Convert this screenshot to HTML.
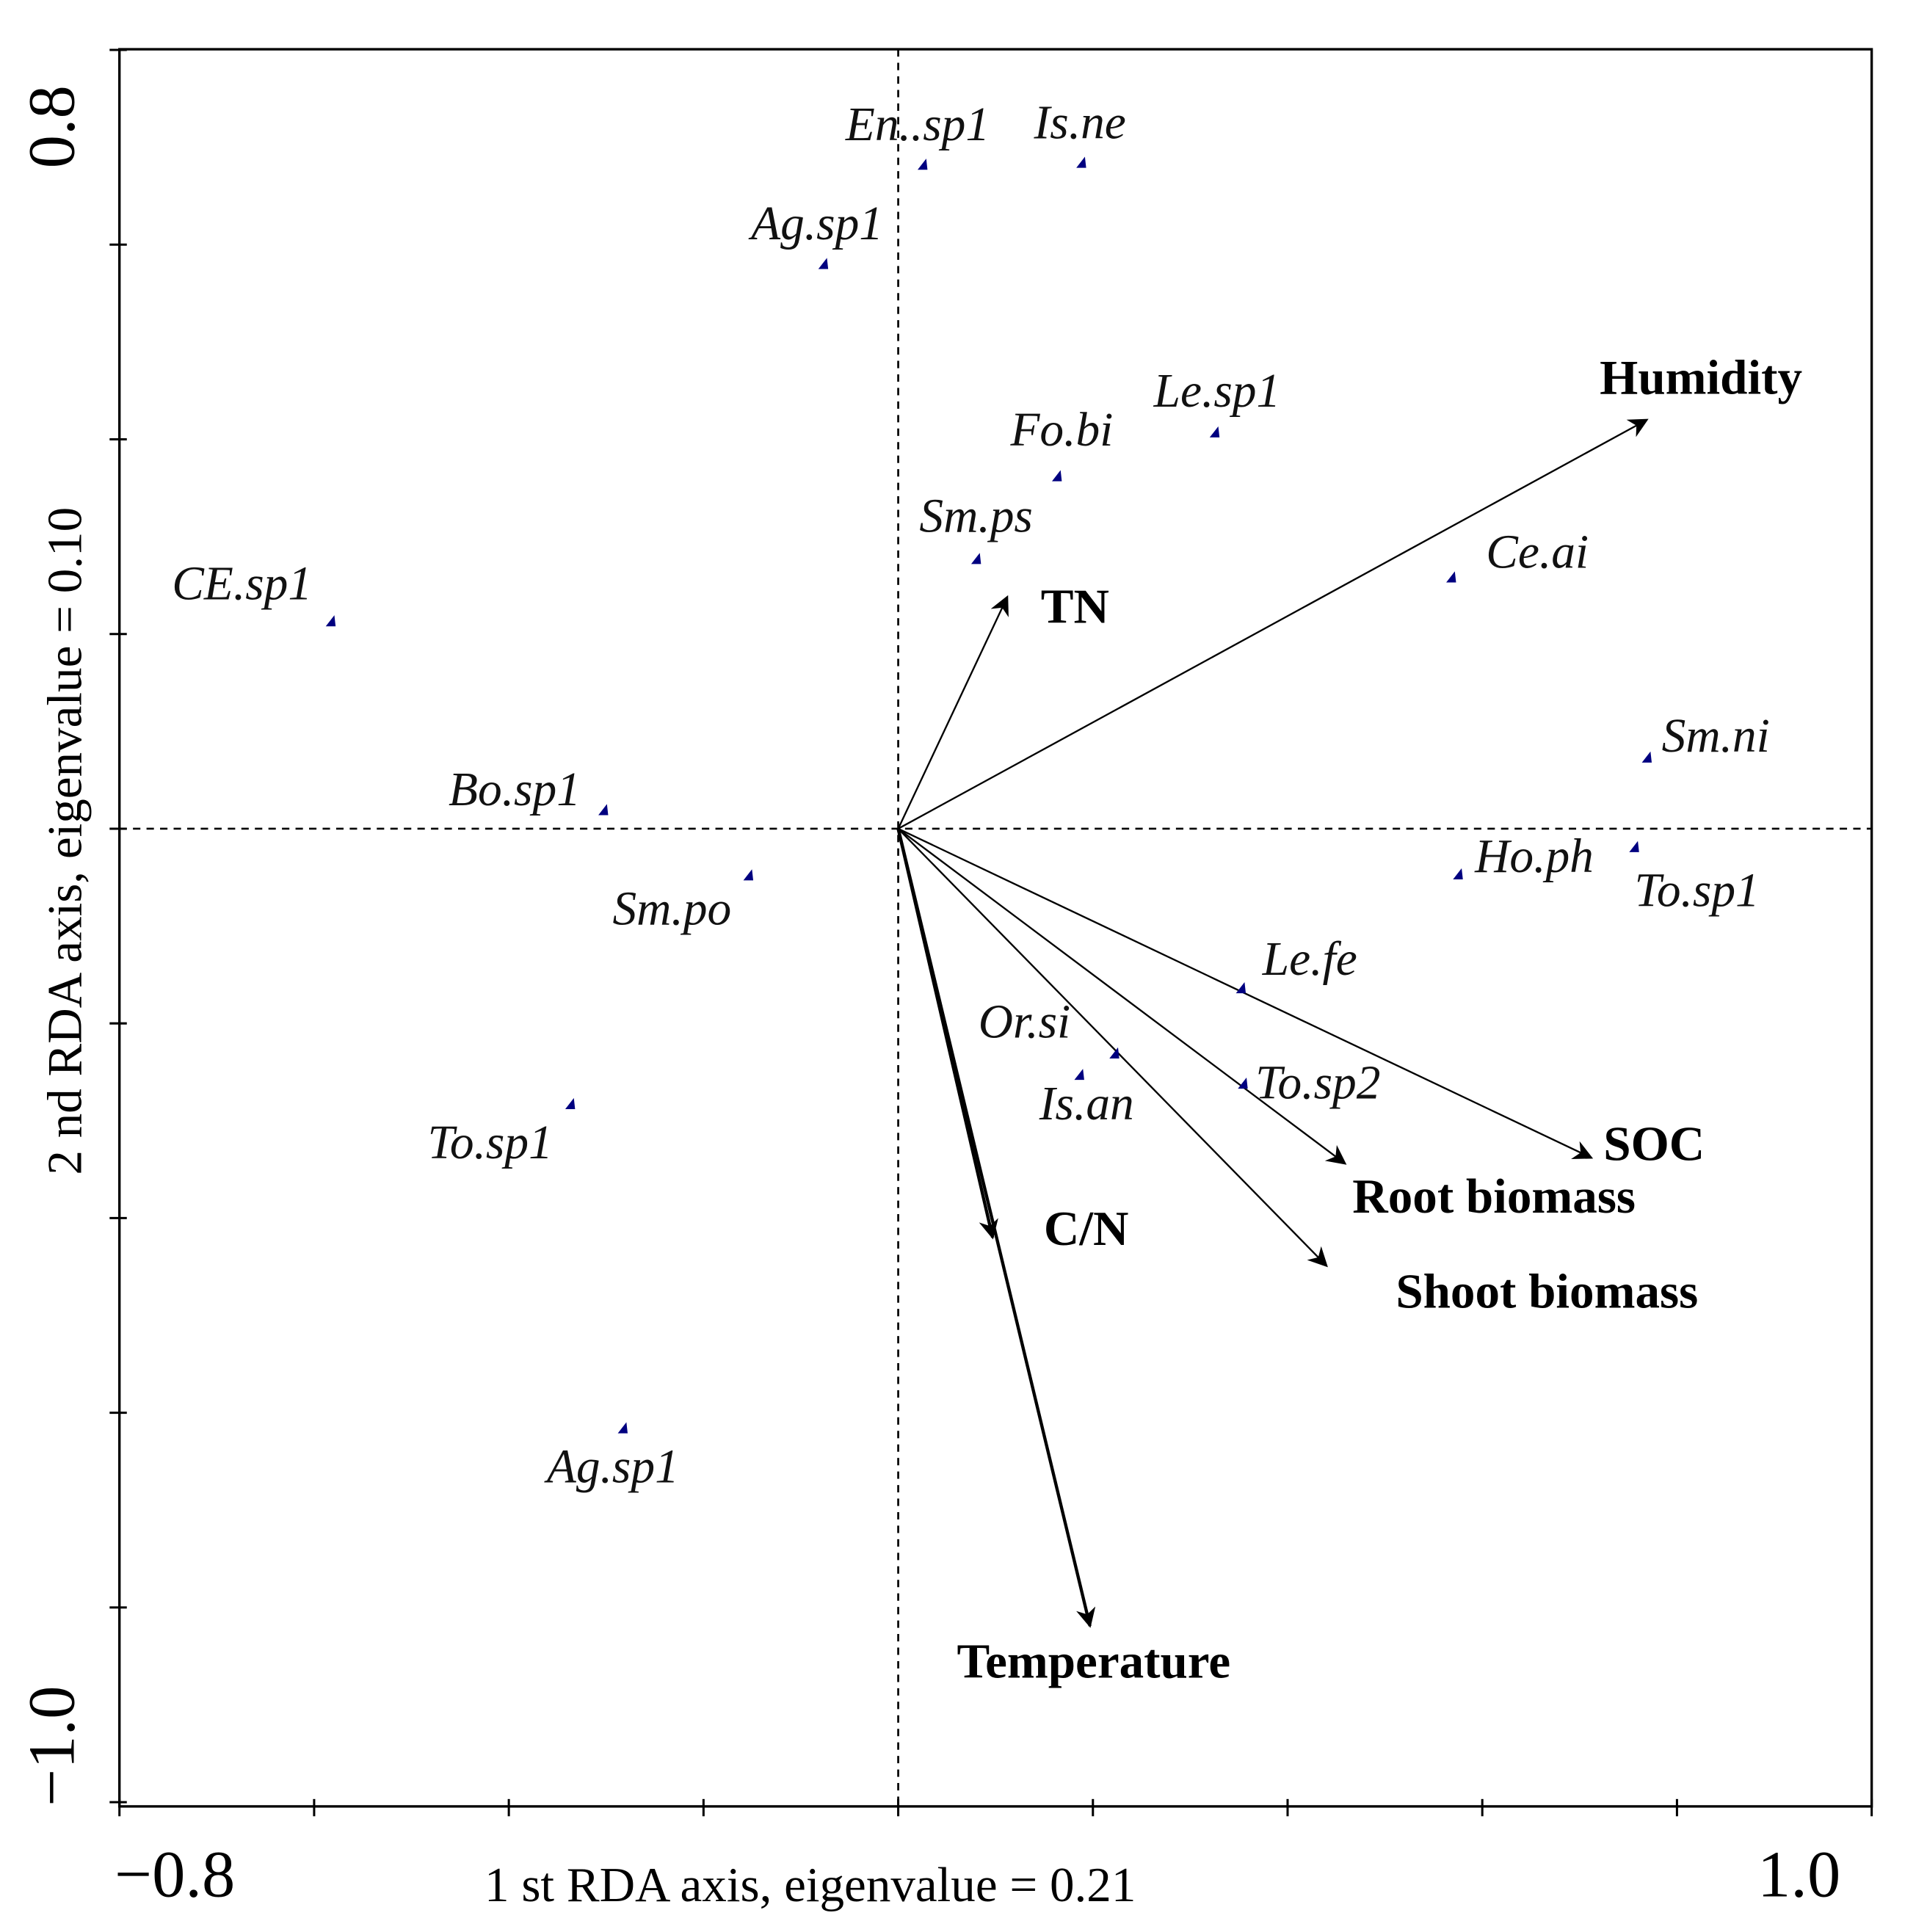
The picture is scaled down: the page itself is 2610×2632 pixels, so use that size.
<!DOCTYPE html>
<html>
<head>
<meta charset="utf-8">
<style>
  html,body{margin:0;padding:0;background:#fff;}
  svg{display:block;}
  .sp{font-family:"Liberation Serif",serif;font-style:italic;font-size:39px;fill:#111;}
  .env{font-family:"Liberation Serif",serif;font-weight:bold;font-size:40px;fill:#000;}
  .tick{font-family:"Liberation Serif",serif;font-size:54px;fill:#000;}
  .ttl{font-family:"Liberation Serif",serif;font-size:40px;fill:#000;}
</style>
</head>
<body>
<svg id="chart" width="2610" height="2632" viewBox="0 0 1556 1569" preserveAspectRatio="none" xmlns="http://www.w3.org/2000/svg">
  <defs>
    <marker id="ahBig" viewBox="0 0 10 10" refX="9" refY="5" markerWidth="24" markerHeight="16" markerUnits="userSpaceOnUse" orient="auto">
      <path d="M0,0 L10,5 L0,10 L3,5 z" fill="#000"/>
    </marker>
  </defs>
  <rect x="97" y="40" width="1423" height="1427" fill="none" stroke="#000" stroke-width="2"/>
  <g id="grid"></g>
  <g id="axes"></g>
  <g id="arrows"></g>
  <g id="species"></g>
  <text class="ttl" x="658" y="1544" text-anchor="middle">1 st RDA axis, eigenvalue = 0.21</text>
  <text class="ttl" x="0" y="0" text-anchor="middle" transform="translate(66,683) rotate(-90)">2 nd RDA axis, eigenvalue = 0.10</text>
</svg>
<script>
// ---- data ----
const xTickValues = [-0.8,-0.6,-0.4,-0.2,0,0.2,0.4,0.6,0.8,1.0];
const yTickValues = [-1.0,-0.8,-0.6,-0.4,-0.2,0,0.2,0.4,0.6,0.8];
const xTickLabels = ["\u22120.8","1.0"];
const yTickLabels = ["\u22121.0","0.8"];

const speciesNames = ["En..sp1","Is.ne","Ag.sp1","Le.sp1","Fo.bi","Sm.ps","Ce.ai","CE.sp1","Sm.ni","Bo.sp1","Sm.po","Ho.ph","To.sp1","Le.fe","Or.si","Is.an","To.sp2","To.sp1","Ag.sp1"];
const speciesX = [0.025,0.188,-0.077,0.325,0.163,0.080,0.568,-0.583,0.769,-0.303,-0.154,0.575,0.756,0.352,0.222,0.186,0.354,-0.337,-0.283];
const speciesY = [0.682,0.684,0.580,0.407,0.362,0.277,0.258,0.213,0.073,0.019,-0.048,-0.047,-0.019,-0.164,-0.231,-0.253,-0.262,-0.283,-0.616];

const envNames = ["TN","Humidity","SOC","Root biomass","Shoot biomass","C/N","Temperature"];
const envX = [0.112,0.769,0.712,0.459,0.440,0.097,0.197];
const envY = [0.238,0.420,-0.338,-0.344,-0.449,-0.420,-0.819];

// label placement offsets (px, styling only)
const spLabelDX = [-4,-1,-5,2,4,0,70,-72,56,-72,-62,62,51,56,-73,6,61,-65,-8];
const spLabelDY = [-20,-20,-20,-21,-25,-22,-8,-18,-5,-4,40,-2,48,-11,-13,36,12,44,44];
const envLabelDX = [55,44,51,121,179,76,3];
const envLabelDY = [21,-21,2,40,34,6,42];

// ---- scales ----
const X0=97, X1=1520, Y0=40, Y1=1467;
const ppu = (X1-X0)/1.8;
function sx(v){ return X0 + (v+0.8)*ppu; }
function sy(v){ return 673 - v*ppu; }
const NS="http://www.w3.org/2000/svg";
function mk(tag, attrs, parent){
  const e=document.createElementNS(NS,tag);
  for(const k in attrs) e.setAttribute(k, attrs[k]);
  parent.appendChild(e); return e;
}
const grid=document.getElementById('grid'), axes=document.getElementById('axes');
const arrows=document.getElementById('arrows'), species=document.getElementById('species');

let zl=mk('line',{x1:X0,x2:X1,y1:sy(0),y2:sy(0),stroke:'#000','stroke-width':1.6,'stroke-dasharray':'6,5'},grid);


zl=mk('line',{x1:sx(0),x2:sx(0),y1:Y0,y2:Y1,stroke:'#000','stroke-width':1.6,'stroke-dasharray':'6,5'},grid);



xTickValues.forEach(v=>{
  const t=mk('line',{x1:sx(v),x2:sx(v),y1:Y1-6,y2:Y1+8,stroke:'#000','stroke-width':1.8},axes);
  
  
});
yTickValues.forEach(v=>{
  const t=mk('line',{x1:X0-8,x2:X0+6,y1:sy(v),y2:sy(v),stroke:'#000','stroke-width':1.8},axes);
  
  
});
[[xTickLabels[0],-0.8],[xTickLabels[1],1.0]].forEach(([s,v],i)=>{
  const cx = i===0 ? 142 : 1461;
  const t=mk('text',{class:'tick',x:cx,y:1540,'text-anchor':'middle',transform:`translate(${cx},0) scale(1.0,1) translate(${-cx},0)`},axes);
  t.textContent=s;
  
  
});
[[yTickLabels[0],-1.0],[yTickLabels[1],0.8]].forEach(([s,v],i)=>{
  const cy = i===0 ? 1418 : 103;
  const t=mk('text',{class:'tick',x:0,y:0,'text-anchor':'middle',transform:`translate(60,${cy}) rotate(-90) scale(1.0,1)`},axes);
  t.textContent=s;
  
  
});

envNames.forEach((n,i)=>{
  const thick = (n==="C/N"||n==="Temperature");
  const l=mk('line',{x1:sx(0),y1:sy(0),x2:sx(envX[i]),y2:sy(envY[i]),stroke:'#000','stroke-width':thick?2.6:1.4,'marker-end':'url(#ahBig)'},arrows);
  
  
  const t=mk('text',{class:'env',x:sx(envX[i])+envLabelDX[i],y:sy(envY[i])+envLabelDY[i],'text-anchor':'middle'},arrows);
  t.textContent=n;
  
  
});

speciesNames.forEach((n,i)=>{
  const x=sx(speciesX[i]), y=sy(speciesY[i]);
  const p=mk('path',{d:`M${x-4},${y+4} L${x+4},${y+4} L${x+3},${y-5} z`,fill:'#000080'},species);
  
  
  const t=mk('text',{class:'sp',x:x+spLabelDX[i],y:y+spLabelDY[i],'text-anchor':'middle'},species);
  t.textContent=n;
  
  
});
</script>
</body>
</html>
